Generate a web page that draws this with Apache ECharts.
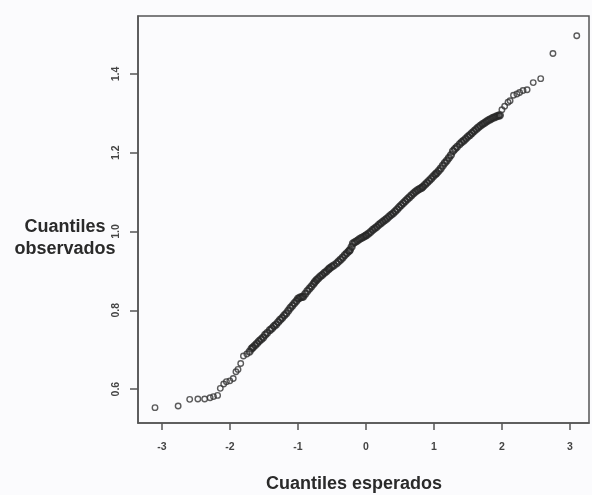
<!DOCTYPE html>
<html>
<head>
<meta charset="utf-8">
<script src="https://cdn.jsdelivr.net/npm/echarts@6/dist/echarts.min.js"></script>
<style>
html,body{margin:0;padding:0;background:#fbfbfd;}
#chart{width:592px;height:495px;}
</style>
</head>
<body>
<div id="chart"></div>
<script>
// Lower tail (sparse open circles)
var lowerX = [-3.10,-2.76,-2.59,-2.47,-2.37,-2.29,-2.24,-2.18,-2.14,-2.09,-2.05,-2.00,-1.95,-1.91,-1.88,-1.84,-1.80,-1.75];
var lowerY = [0.553,0.557,0.574,0.575,0.575,0.578,0.581,0.584,0.602,0.613,0.619,0.621,0.627,0.644,0.650,0.665,0.684,0.689];
// Body (dense run of overlapping circles)
var bodyX = [
  -1.71,-1.68,-1.66,-1.63,-1.60,-1.57,-1.54,-1.51,-1.48,-1.45,-1.41,
  -1.38,-1.35,-1.32,-1.29,-1.26,-1.23,-1.20,-1.17,
  -1.14,-1.11,-1.08,-1.05,-1.02,-0.995,-0.97,-0.94,-0.92,
  -0.89,-0.86,-0.83,-0.80,-0.77,-0.75,-0.725,
  -0.70,-0.67,-0.64,-0.61,-0.58,-0.55,-0.53,-0.50,-0.47,-0.43,
  -0.40,-0.37,-0.34,-0.31,-0.28,-0.25,-0.235,-0.21,-0.19,
  -0.16,-0.13,-0.10,-0.07,-0.04,-0.01,0.01,
  0.04,0.07,0.10,0.13,0.16,0.19,0.22,0.25,0.28,0.31,0.34,0.37,0.40,
  0.43,0.46,0.49,0.52,0.55,0.58,0.61,0.64,0.67,0.70,
  0.73,0.76,0.79,0.82,0.84,
  0.87,0.90,0.93,0.96,0.99,1.02,1.04,
  1.07,1.10,1.13,1.16,1.19,1.22,1.25,1.28,1.31,1.34,1.38,
  1.41,1.44,1.47,1.50,1.53,1.56,1.59,1.62,1.65,1.68,
  1.71,1.74,1.77,1.80,1.83,1.86,1.89,1.92,1.95,1.97
];
var bodyY = [
  0.695,0.703,0.706,0.711,0.716,0.722,0.726,0.731,0.738,0.743,0.750,
  0.754,0.760,0.764,0.770,0.776,0.781,0.787,0.792,
  0.799,0.806,0.812,0.818,0.824,0.830,0.832,0.834,0.835,
  0.842,0.849,0.855,0.861,0.867,0.872,0.877,
  0.881,0.886,0.890,0.895,0.899,0.904,0.907,0.911,0.914,0.919,
  0.924,0.929,0.934,0.940,0.945,0.950,0.953,0.961,0.970,
  0.973,0.976,0.980,0.983,0.986,0.989,0.991,
  0.995,0.999,1.004,1.008,1.012,1.017,1.021,1.025,1.029,1.033,1.038,1.042,1.046,
  1.051,1.056,1.062,1.067,1.072,1.077,1.082,1.087,1.092,1.097,
  1.101,1.105,1.108,1.111,1.114,
  1.119,1.124,1.129,1.134,1.140,1.145,1.148,
  1.154,1.160,1.167,1.174,1.180,1.187,1.194,1.204,1.210,1.215,1.222,
  1.227,1.231,1.236,1.241,1.245,1.250,1.255,1.259,1.264,1.268,
  1.272,1.275,1.279,1.282,1.285,1.288,1.290,1.292,1.294,1.295
];
// Upper tail (sparse open circles)
var upperX = [2.00,2.04,2.09,2.12,2.17,2.22,2.26,2.31,2.37,2.46,2.57,2.75,3.10];
var upperY = [1.309,1.318,1.328,1.332,1.346,1.349,1.353,1.358,1.360,1.378,1.388,1.452,1.497];

var xTicks = [-3, -2, -1, 0, 1, 2, 3];
var yTicks = [0.6, 0.8, 1.0, 1.2, 1.4];
var xTitle = 'Cuantiles esperados';
var yTitle = 'Cuantiles\nobservados';

function pairs(xs, ys) { return xs.map(function (x, i) { return [x, ys[i]]; }); }

var chart = echarts.init(document.getElementById('chart'), null, {renderer: 'canvas'});
var axisColor = '#555';
var labelColor = '#444';
var font = '"Liberation Sans", Arial, sans-serif';
var openCircle = {color: 'rgba(0,0,0,0)', borderColor: '#333', borderWidth: 1.4};
chart.setOption({
  backgroundColor: '#fbfbfd',
  animation: false,
  grid: {left: 138, right: 3, top: 16, bottom: 72, show: true, borderColor: axisColor, borderWidth: 1.5, backgroundColor: 'transparent'},
  xAxis: {
    type: 'value', min: -3.35, max: 3.28,
    axisLine: {show: true, onZero: false, lineStyle: {color: axisColor, width: 1.5}},
    axisTick: {show: true, length: 7, customValues: xTicks, lineStyle: {color: axisColor, width: 1.5}},
    axisLabel: {customValues: xTicks, margin: 19, fontSize: 10.5, fontWeight: 'bold', color: labelColor,
      fontFamily: font, formatter: function (v) { return String(v); }},
    splitLine: {show: false}
  },
  yAxis: {
    type: 'value', min: 0.514, max: 1.547,
    axisLine: {show: true, onZero: false, lineStyle: {color: axisColor, width: 1.5}},
    axisTick: {show: true, length: 8, customValues: yTicks, lineStyle: {color: axisColor, width: 1.5}},
    axisLabel: {customValues: yTicks, rotate: 90, margin: 16, fontSize: 10.5, fontWeight: 'bold', color: labelColor,
      fontFamily: font, formatter: function (v) { return v.toFixed(1); }},
    splitLine: {show: false}
  },
  graphic: [
    {type: 'text', left: 366 - 100, top: 475, style: {text: xTitle, width: 200, align: 'center',
      font: 'bold 18px ' + font, fill: '#2a2a2a'}},
    {type: 'text', x: 65, y: 216, style: {text: yTitle, align: 'center', lineHeight: 22,
      font: 'bold 18px ' + font, fill: '#2a2a2a'}}
  ],
  series: [
    {type: 'scatter', data: pairs(lowerX, lowerY), symbol: 'circle', symbolSize: 5.5,
      itemStyle: openCircle, emphasis: {disabled: true}},
    {type: 'scatter', data: pairs(bodyX, bodyY), symbol: 'circle', symbolSize: 6,
      itemStyle: {color: 'rgba(0,0,0,0)', borderColor: '#262626', borderWidth: 2.2}, emphasis: {disabled: true}},
    {type: 'scatter', data: pairs(upperX, upperY), symbol: 'circle', symbolSize: 5.5,
      itemStyle: openCircle, emphasis: {disabled: true}}
  ]
});
</script>
</body>
</html>
